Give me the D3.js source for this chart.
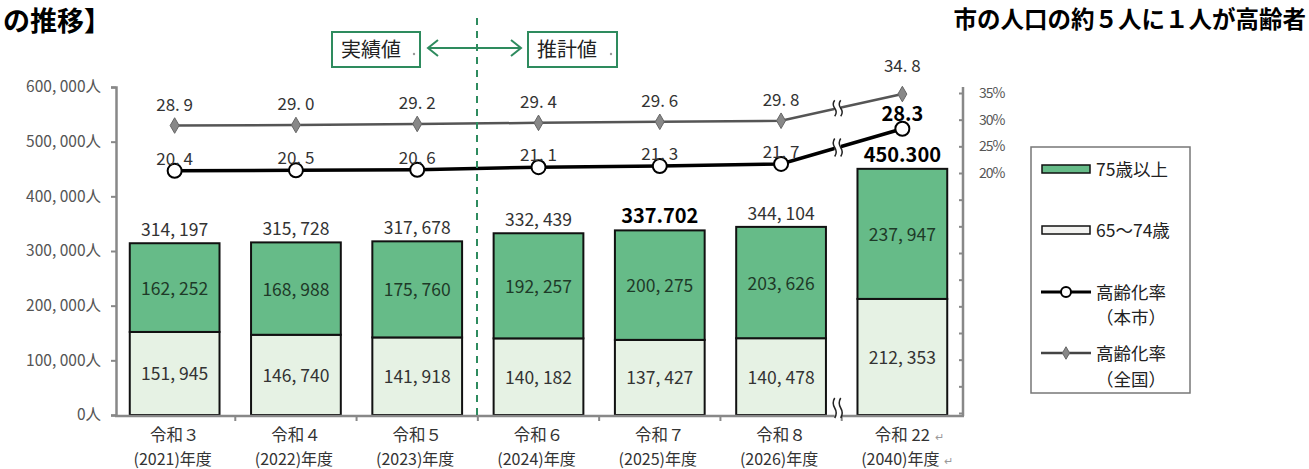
<!DOCTYPE html>
<html>
<head>
<meta charset="utf-8">
<script src="https://cdn.jsdelivr.net/npm/d3@7"></script>
<style>
  body { margin: 0; background: #fff; }
  svg { font-family: "Noto Sans CJK JP", "Noto Sans", sans-serif; }
</style>
</head>
<body>
<svg id="chart" width="1309" height="469"></svg>
<script>
// data
var categories = ["令和３", "令和４", "令和５", "令和６", "令和７", "令和８", "令和 22"];
var years = ["(2021)年度", "(2022)年度", "(2023)年度", "(2024)年度", "(2025)年度", "(2026)年度", "(2040)年度"];
var over75 = [162252, 168988, 175760, 192257, 200275, 203626, 237947];
var age65to74 = [151945, 146740, 141918, 140182, 137427, 140478, 212353];
var totals = [314197, 315728, 317678, 332439, 337702, 344104, 450300];
var cityRate = [20.4, 20.5, 20.6, 21.1, 21.3, 21.7, 28.3];
var nationRate = [28.9, 29.0, 29.2, 29.4, 29.6, 29.8, 34.8];
var leftTicks = [0, 100000, 200000, 300000, 400000, 500000, 600000];
var rightTicks = [-25, -20, -15, -10, -5, 0, 5, 10, 15, 20, 25, 30, 35];
var boldTotals = [4, 6];

var svg = d3.select("#chart");
var green = "#66bb88", light = "#e6f2e4", dark = "#333";

var x = d3.scaleBand().domain(d3.range(categories.length))
	.range([114, 963]).paddingInner(0.26).paddingOuter(0.13);
var y = d3.scaleLinear().domain([0, 600000]).range([415, 87]);
var yr = d3.scaleLinear().domain([-25, 35]).range([413, 93]);
var cx = function(i) { return x(i) + x.bandwidth() / 2; };

function commaFmt(v) { return d3.format(",")(v).replace(",", ", "); }

// titles
svg.append("text").attr("x", 3).attr("y", 31)
	.attr("font-size", 27).attr("font-weight", "bold").attr("fill", "#000").text("の推移】");
svg.append("text").attr("x", 1306).attr("y", 28).attr("text-anchor", "end")
	.attr("font-size", 23.5).attr("font-weight", "bold").attr("fill", "#000").text("市の人口の約５人に１人が高齢者");

// bars
var g = svg.append("g");
g.selectAll(".low").data(age65to74).enter().append("rect")
	.attr("x", function(d, i) { return x(i); })
	.attr("width", x.bandwidth())
	.attr("y", function(d) { return y(d); })
	.attr("height", function(d) { return y(0) - y(d); })
	.attr("fill", light).attr("stroke", "#111").attr("stroke-width", 2);
g.selectAll(".high").data(over75).enter().append("rect")
	.attr("x", function(d, i) { return x(i); })
	.attr("width", x.bandwidth())
	.attr("y", function(d, i) { return y(d + age65to74[i]); })
	.attr("height", function(d) { return y(0) - y(d); })
	.attr("fill", green).attr("stroke", "#111").attr("stroke-width", 2);

g.selectAll(".lowlbl").data(age65to74).enter().append("text")
	.attr("x", function(d, i) { return cx(i); })
	.attr("y", function(d) { return y(d / 2) + 7; })
	.attr("text-anchor", "middle").attr("font-size", 17.5).attr("fill", dark)
	.text(commaFmt);
g.selectAll(".highlbl").data(over75).enter().append("text")
	.attr("x", function(d, i) { return cx(i); })
	.attr("y", function(d, i) { return y(age65to74[i] + d / 2) + 7; })
	.attr("text-anchor", "middle").attr("font-size", 17.5).attr("fill", "#1e3a28")
	.text(commaFmt);
g.selectAll(".tot").data(totals).enter().append("text")
	.attr("x", function(d, i) { return cx(i); })
	.attr("y", function(d) { return y(d) - 7; })
	.attr("text-anchor", "middle")
	.attr("font-size", function(d, i) { return boldTotals.indexOf(i) >= 0 ? 20 : 17.5; })
	.attr("font-weight", function(d, i) { return boldTotals.indexOf(i) >= 0 ? "bold" : "normal"; })
	.attr("fill", function(d, i) { return boldTotals.indexOf(i) >= 0 ? "#000" : dark; })
	.text(function(d, i) { return boldTotals.indexOf(i) >= 0 ? d3.format(",")(d).replace(",", ".") : commaFmt(d); });

// left axis
var axisColor = "#888";
var la = svg.append("g").attr("transform", "translate(116,0)")
	.call(d3.axisLeft(y).tickValues(leftTicks).tickSize(5).tickPadding(10)
		.tickFormat(function(d) { return commaFmt(d) + "人"; }));
la.select(".domain").attr("stroke", axisColor).attr("stroke-width", 2.5);
la.selectAll(".tick line").attr("stroke", axisColor).attr("stroke-width", 2);
la.selectAll(".tick text").attr("font-size", 15.5).attr("fill", "#555").attr("font-family", "Noto Sans CJK JP");

// right axis
var ra = svg.append("g").attr("transform", "translate(963,0)")
	.call(d3.axisRight(yr).tickValues(rightTicks).tickSize(5).tickPadding(11)
		.tickFormat(function(d) { return d >= 20 ? d + "%" : ""; }));
ra.select(".domain").attr("d", "M0,87V416").attr("stroke", axisColor).attr("stroke-width", 2.5);
ra.selectAll(".tick line").attr("x1", -4).attr("x2", 0).attr("stroke", axisColor).attr("stroke-width", 2);
ra.selectAll(".tick text").attr("font-size", 14).attr("fill", "#555").attr("letter-spacing", -1)
	.attr("font-family", "Noto Sans CJK JP");

// bottom axis
svg.append("line").attr("x1", 115).attr("x2", 964).attr("y1", 416).attr("y2", 416)
	.attr("stroke", axisColor).attr("stroke-width", 2.5);
svg.selectAll(".xt").data(d3.range(1, categories.length)).enter().append("line")
	.attr("x1", function(i) { return x(i) - x.step() * x.paddingInner() / 2; })
	.attr("x2", function(i) { return x(i) - x.step() * x.paddingInner() / 2; })
	.attr("y1", 416).attr("y2", 421).attr("stroke", axisColor).attr("stroke-width", 2);

svg.selectAll(".cat").data(categories).enter().append("text")
	.attr("x", function(d, i) { return cx(i); }).attr("y", 441)
	.attr("text-anchor", "middle").attr("font-size", 16.5).attr("fill", dark).text(function(d) { return d; });
svg.selectAll(".yr").data(years).enter().append("text")
	.attr("x", function(d, i) { return cx(i) - 2; }).attr("y", 465)
	.attr("text-anchor", "middle").attr("font-size", 16).attr("fill", dark)
	.text(function(d) { return d; });
// word return marks
svg.append("text").attr("x", cx(6) + 33).attr("y", 441).attr("font-size", 11).attr("fill", "#999").text("↵");
svg.append("text").attr("x", cx(6) + 42).attr("y", 465).attr("font-size", 11).attr("fill", "#999").text("↵");

// rate lines
var line = function(vals) {
	return d3.line().x(function(d, i) { return cx(i); }).y(function(d) { return yr(d); })(vals);
};
svg.append("path").attr("d", line(nationRate)).attr("fill", "none").attr("stroke", "#555").attr("stroke-width", 2.5);
svg.append("path").attr("d", line(cityRate)).attr("fill", "none").attr("stroke", "#000").attr("stroke-width", 3.5);

// break marks
var bx = x(6) - x.step() * x.paddingInner() / 2 - 4;
function breakMark(px, py, h) {
	var b = svg.append("g").attr("transform", "translate(" + px + "," + py + ")");
	b.append("rect").attr("x", -3).attr("y", -h / 2).attr("width", 6).attr("height", h).attr("fill", "#fff");
	[-3, 3].forEach(function(dx) {
		b.append("path")
			.attr("d", "M" + dx + "," + (-h / 2) + "q-3," + (h / 4) + " 0," + (h / 2) + "q3," + (h / 4) + " 0," + (h / 2))
			.attr("fill", "none").attr("stroke", "#222").attr("stroke-width", 1.5);
	});
}
function midY(vals) { return (yr(vals[5]) + yr(vals[6])) / 2 + (bx - (cx(5) + cx(6)) / 2) * (yr(vals[6]) - yr(vals[5])) / x.step(); }
breakMark(bx, midY(nationRate), 16);
breakMark(bx, midY(cityRate), 18);
breakMark(bx, 408, 20);

svg.selectAll(".dia").data(nationRate).enter().append("path")
	.attr("d", d3.symbol().type(d3.symbolDiamond).size(70))
	.attr("transform", function(d, i) { return "translate(" + cx(i) + "," + yr(d) + ")"; })
	.attr("fill", "#888").attr("stroke", "#666").attr("stroke-width", 1);
svg.selectAll(".cir").data(cityRate).enter().append("circle")
	.attr("cx", function(d, i) { return cx(i); }).attr("cy", function(d) { return yr(d); })
	.attr("r", 7).attr("fill", "#fff").attr("stroke", "#000").attr("stroke-width", 2);

function rateFmt(d) { return d3.format(".1f")(d).replace(".", ". "); }
svg.selectAll(".nl").data(nationRate).enter().append("text")
	.attr("x", function(d, i) { return cx(i); })
	.attr("y", function(d, i) { return yr(d) - (i == 6 ? 22 : 15); })
	.attr("text-anchor", "middle").attr("font-size", 17).attr("fill", dark).text(rateFmt);
svg.selectAll(".cl").data(cityRate).enter().append("text")
	.attr("x", function(d, i) { return cx(i); })
	.attr("y", function(d, i) { return yr(d) - (i == 6 ? 8 : 6); })
	.attr("text-anchor", "middle")
	.attr("font-size", function(d, i) { return i == 6 ? 20 : 17; })
	.attr("font-weight", function(d, i) { return i == 6 ? "bold" : "normal"; })
	.attr("fill", function(d, i) { return i == 6 ? "#000" : dark; })
	.text(function(d, i) { return i == 6 ? d3.format(".1f")(d) : rateFmt(d); });

// actual / estimate
var teal = "#2e8b5e";
svg.append("line").attr("x1", 477).attr("x2", 477).attr("y1", 18).attr("y2", 415)
	.attr("stroke", teal).attr("stroke-width", 2).attr("stroke-dasharray", "7,6");
[{x: 332, w: 88, t: "実績値"}, {x: 528, w: 89, t: "推計値"}].forEach(function(b) {
	svg.append("rect").attr("x", b.x).attr("y", 32).attr("width", b.w).attr("height", 35)
		.attr("fill", "#fff").attr("stroke", teal).attr("stroke-width", 2);
	svg.append("text").attr("x", b.x + 9).attr("y", 57).attr("font-size", 20).attr("fill", "#222").text(b.t);
	svg.append("circle").attr("cx", b.x + b.w - 6).attr("cy", 54).attr("r", 1.2).attr("fill", "#999");
});
svg.append("path").attr("d", "M428,48H521M438,40L428,48L438,56M511,40L521,48L511,56")
	.attr("fill", "none").attr("stroke", teal).attr("stroke-width", 2);

// legend
var lg = svg.append("g");
lg.append("rect").attr("x", 1031).attr("y", 147).attr("width", 159).attr("height", 246)
	.attr("fill", "#fff").attr("stroke", "#777").attr("stroke-width", 1.5);
lg.append("rect").attr("x", 1042).attr("y", 165).attr("width", 48).attr("height", 8)
	.attr("fill", green).attr("stroke", "#111").attr("stroke-width", 1.5);
lg.append("rect").attr("x", 1042).attr("y", 226).attr("width", 48).attr("height", 8)
	.attr("fill", "#f2f2f0").attr("stroke", "#111").attr("stroke-width", 1.5);
lg.append("line").attr("x1", 1041).attr("x2", 1091).attr("y1", 292).attr("y2", 292).attr("stroke", "#000").attr("stroke-width", 3);
lg.append("circle").attr("cx", 1066).attr("cy", 292).attr("r", 5).attr("fill", "#fff").attr("stroke", "#000").attr("stroke-width", 2);
lg.append("line").attr("x1", 1041).attr("x2", 1091).attr("y1", 353).attr("y2", 353).attr("stroke", "#444").attr("stroke-width", 2.5);
lg.append("path").attr("d", d3.symbol().type(d3.symbolDiamond).size(45)).attr("transform", "translate(1066,353)")
	.attr("fill", "#888").attr("stroke", "#666");
[{y: 176, t: "75歳以上"}, {y: 237, t: "65〜74歳"}, {y: 299, t: "高齢化率"}, {y: 324, t: "（本市）"},
 {y: 360, t: "高齢化率"}, {y: 386, t: "（全国）"}].forEach(function(d, i) {
	lg.append("text").attr("x", 1096).attr("y", d.y)
		.attr("font-size", 17.5).attr("fill", "#222").text(d.t);
});
</script>
</body>
</html>
